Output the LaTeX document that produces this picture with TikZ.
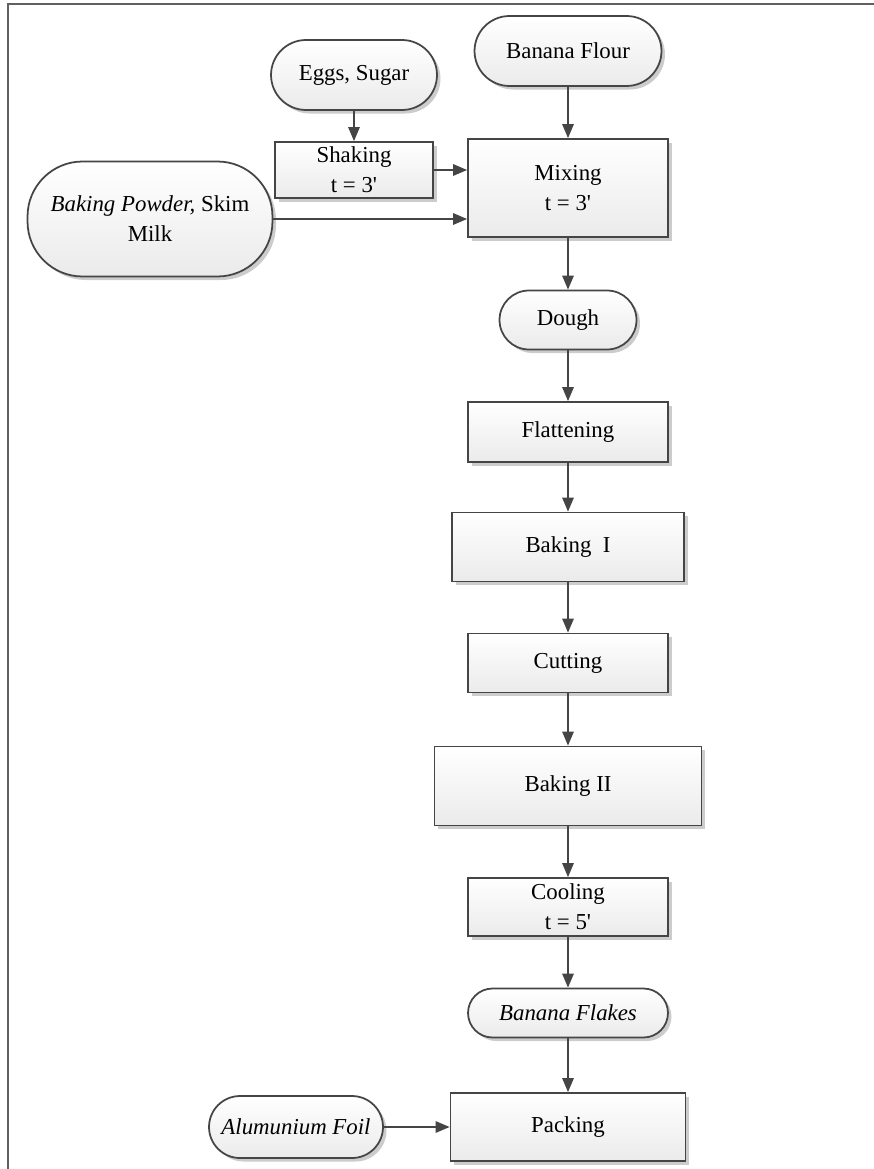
\documentclass[tikz,border=0pt]{standalone}
\usepackage{fontspec}
\setmainfont{Liberation Serif}
\usepackage{tikz}
\usetikzlibrary{arrows.meta,shadows}
\definecolor{edgegray}{HTML}{454545}
\tikzset{
  proc/.style={draw=edgegray,line width=1pt,top color=white,bottom color=gray!16,
    drop shadow={shadow xshift=2pt,shadow yshift=-2pt,opacity=0.4},
    align=center,inner sep=0pt,font=\fontsize{13}{17}\selectfont},
  term/.style={proc,rounded corners=#1},
  flow/.style={-{Triangle[length=8pt,width=6.5pt]},line width=1pt,color=edgegray}
}
\begin{document}
\begin{tikzpicture}[x=0.02cm,y=-0.02cm]
  \useasboundingbox (0,0) rectangle (874,1169);
  % frame
  \draw[line width=1.3pt,color=gray!75!black] (874,4) -- (8,4) -- (8,1169);

  % inputs
  \node[term=0.7cm,minimum width=3.32cm,minimum height=1.4cm] (eggs) at (354,75) {Eggs, Sugar};
  \node[term=0.7cm,minimum width=3.74cm,minimum height=1.4cm] (flour) at (568,51) {Banana Flour};
  \node[term=1.1cm,minimum width=4.9cm,minimum height=2.3cm] (powder) at (150,219) {\textit{Baking Powder,} Skim\\Milk};

  % steps
  \node[proc,minimum width=3.16cm,minimum height=1.12cm] (shaking) at (354,170) {Shaking\\t = 3\textquotesingle};
  \node[proc,minimum width=4cm,minimum height=1.96cm] (mixing) at (568,188) {Mixing\\t = 3\textquotesingle};
  \node[term=0.59cm,minimum width=2.74cm,minimum height=1.18cm] (dough) at (568,320) {Dough};
  \node[proc,minimum width=4cm,minimum height=1.2cm] (flatten) at (568,432) {Flattening};
  \node[proc,minimum width=4.64cm,minimum height=1.38cm] (bake1) at (568,547) {Baking\ \ I};
  \node[proc,minimum width=4cm,minimum height=1.18cm] (cutting) at (568,663) {Cutting};
  \node[proc,minimum width=5.34cm,minimum height=1.58cm] (bake2) at (568,786) {Baking II};
  \node[proc,minimum width=4cm,minimum height=1.16cm] (cooling) at (568,907) {Cooling\\t = 5\textquotesingle};
  \node[term=0.49cm,minimum width=4cm,minimum height=0.98cm] (flakes) at (568,1013) {\textit{Banana Flakes}};
  \node[proc,minimum width=4.7cm,minimum height=1.36cm] (packing) at (568,1127) {Packing};
  \node[term=0.62cm,minimum width=3.48cm,minimum height=1.24cm] (foil) at (296,1127) {\textit{Alumunium Foil}};

  % arrows
  \draw[flow] (eggs) -- (shaking);
  \draw[flow] (flour) -- (mixing);
  \draw[flow] (shaking.east) -- (shaking.east -| mixing.west);
  \draw[flow] (powder.east) -- (powder.east -| mixing.west);
  \draw[flow] (mixing) -- (dough);
  \draw[flow] (dough) -- (flatten);
  \draw[flow] (flatten) -- (bake1);
  \draw[flow] (bake1) -- (cutting);
  \draw[flow] (cutting) -- (bake2);
  \draw[flow] (bake2) -- (cooling);
  \draw[flow] (cooling) -- (flakes);
  \draw[flow] (flakes) -- (packing);
  \draw[flow] (foil) -- (packing);
\end{tikzpicture}
\end{document}
